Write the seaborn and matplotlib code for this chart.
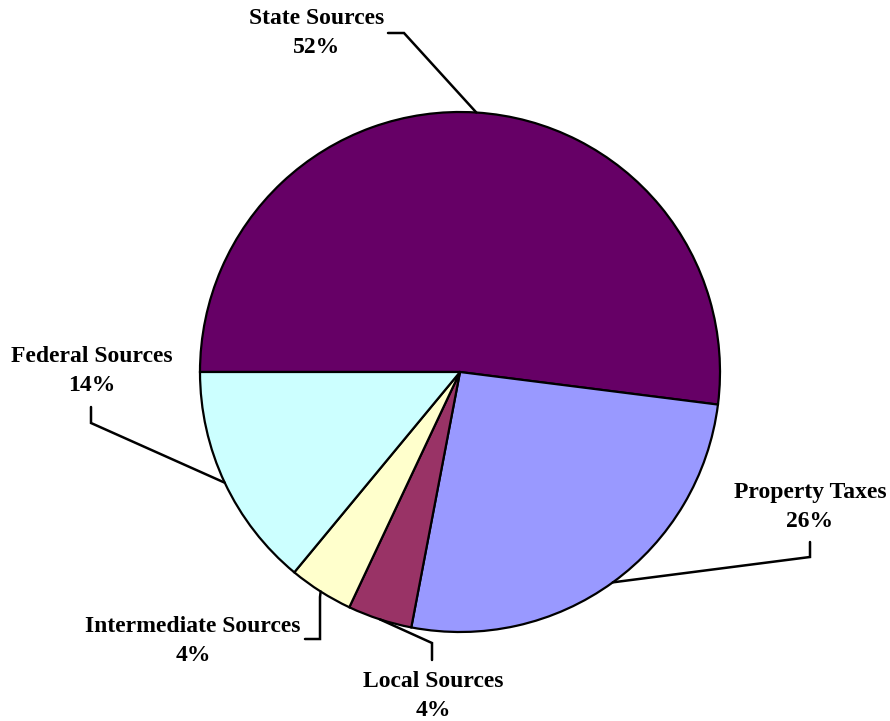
import numpy as np
import matplotlib
matplotlib.use("Agg")
import matplotlib.pyplot as plt
import seaborn as sns

categories = ["State Sources", "Property Taxes", "Local Sources", "Intermediate Sources", "Federal Sources"]
shares = [52, 26, 4, 4, 14]
colors = ["#660066", "#9999FF", "#993366", "#FFFFCC", "#CCFFFF"]

sns.set_style("white")
plt.rcParams['font.family'] = ['Liberation Serif', 'DejaVu Serif']

W, H = 890, 721
fig = plt.figure(figsize=(W / 100, H / 100), dpi=100)
ax = fig.add_axes([0, 0, 1, 1])

cx, cy, R = 460, H - 372, 260
wedges, _ = ax.pie(shares, colors=colors, startangle=180, counterclock=False,
                   center=(cx, cy), radius=R,
                   wedgeprops=dict(edgecolor="black", linewidth=1.6), frame=False)
ax.set_xlim(0, W)
ax.set_ylim(0, H)
ax.set_aspect("equal")
ax.axis("off")

def Y(y):
    return H - y

# label block centers (pixel coords, y down) and leader elbow points
label_pos = {
    "State Sources": (317, 33),
    "Property Taxes": (810, 507),
    "Local Sources": (433, 696),
    "Intermediate Sources": (193, 641),
    "Federal Sources": (92, 371),
}
leader_pts = {
    "State Sources": [(388, 33), (404, 33)],
    "Property Taxes": [(810, 542), (810, 557)],
    "Local Sources": [(432, 660), (432, 643)],
    "Intermediate Sources": [(305, 639), (320, 639), (320, 597)],
    "Federal Sources": [(91, 407), (91, 423)],
}

for w, cat, s in zip(wedges, categories, shares):
    mid = np.deg2rad((w.theta1 + w.theta2) / 2)
    ex, ey = cx + R * np.cos(mid), cy + R * np.sin(mid)
    pts = leader_pts[cat]
    xs = [p[0] for p in pts] + [ex]
    ys = [Y(p[1]) for p in pts] + [ey]
    ax.plot(xs, ys, color="black", lw=1.8, solid_joinstyle="miter", zorder=3)
    lx, ly = label_pos[cat]
    ax.text(lx, Y(ly), f"{cat}\n{s}%", ha="center", va="center",
            fontsize=17, fontweight="bold", linespacing=1.5, color="black")

fig.savefig("out.png", dpi=100, facecolor="white")
